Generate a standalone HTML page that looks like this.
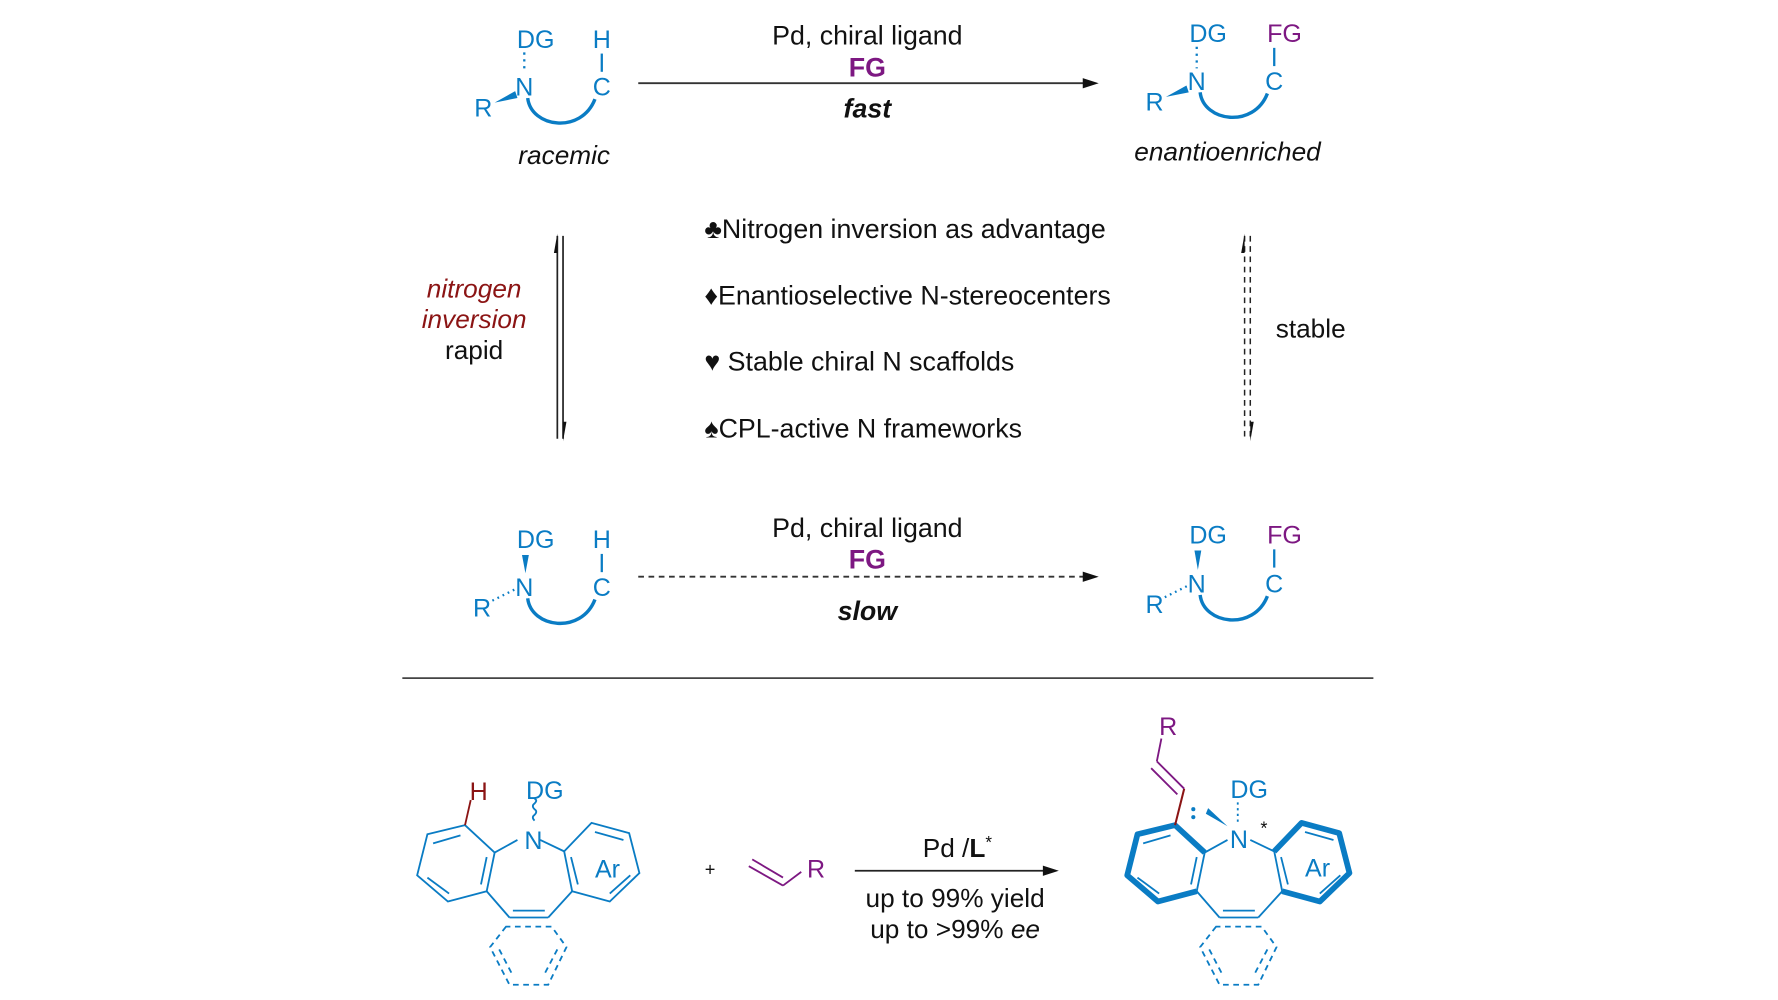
<!DOCTYPE html>
<html><head><meta charset="utf-8"><style>
html,body{margin:0;padding:0;background:#fff;}
svg{display:block}
text{font-family:"Liberation Sans",Arial,sans-serif;}
.b{fill:#0a7cc4}.p{fill:#7d1882}.r{fill:#8b1414}.k{fill:#111}
</style></head><body>
<svg width="1778" height="1000" viewBox="0 0 1560 877.4" xmlns="http://www.w3.org/2000/svg">

<!-- TOP LEFT molecule -->
<g font-size="22" text-anchor="middle">
 <text x="470" y="42" class="b">DG</text>
 <text x="528" y="42" class="b">H</text>
 <text x="460" y="84" class="b">N</text>
 <text x="528" y="84" class="b">C</text>
 <text x="424" y="102" class="b">R</text>
</g>
<line x1="460" y1="46" x2="460" y2="64" stroke="#0a7cc4" stroke-width="2" stroke-dasharray="2,4"/>
<line x1="528" y1="47" x2="528" y2="63" stroke="#0a7cc4" stroke-width="2"/>
<polygon points="434,90 452,80 454,86" fill="#0a7cc4"/>
<path d="M463,86 C466,112 510,118 522,87" fill="none" stroke="#0a7cc4" stroke-width="3"/>
<text x="495" y="144" font-size="23" font-style="italic" text-anchor="middle" class="k">racemic</text>

<!-- top arrow -->
<line x1="560" y1="73" x2="955" y2="73" stroke="#333" stroke-width="1.6"/>
<polygon points="964,73 950,68.5 950,77.5" fill="#111"/>
<text x="761" y="39" font-size="23.5" text-anchor="middle" class="k">Pd, chiral ligand</text>
<text x="761" y="67" font-size="23.5" font-weight="bold" text-anchor="middle" class="p">FG</text>
<text x="761" y="103" font-size="23.5" font-weight="bold" font-style="italic" text-anchor="middle" class="k">fast</text>

<!-- TOP RIGHT molecule -->
<g font-size="22" text-anchor="middle">
 <text x="1060" y="37" class="b">DG</text>
 <text x="1127" y="37" class="p">FG</text>
 <text x="1050" y="79" class="b">N</text>
 <text x="1118" y="79" class="b">C</text>
 <text x="1013" y="97" class="b">R</text>
</g>
<line x1="1050" y1="41" x2="1050" y2="60" stroke="#0a7cc4" stroke-width="2" stroke-dasharray="2,4"/>
<line x1="1118" y1="42" x2="1118" y2="58" stroke="#0a7cc4" stroke-width="2"/>
<polygon points="1023,85 1041,75 1043,81" fill="#0a7cc4"/>
<path d="M1053,81 C1056,107 1100,113 1112,82" fill="none" stroke="#0a7cc4" stroke-width="3"/>
<text x="1077" y="141" font-size="23" font-style="italic" text-anchor="middle" class="k">enantioenriched</text>

<!-- left equilibrium arrows -->
<line x1="489" y1="207" x2="489" y2="385" stroke="#222" stroke-width="1.5"/>
<line x1="494" y1="207" x2="494" y2="385" stroke="#222" stroke-width="1.5"/>
<polygon points="489,205 486,222 489,222" fill="#111"/>
<polygon points="494,387 497,370 494,370" fill="#111"/>
<text x="416" y="261" font-size="23" font-style="italic" text-anchor="middle" class="r">nitrogen</text>
<text x="416" y="288" font-size="23" font-style="italic" text-anchor="middle" class="r">inversion</text>
<text x="416" y="315" font-size="23" text-anchor="middle" class="k">rapid</text>

<!-- bullets -->
<g font-size="23.5" class="k">
 <text x="618" y="209">♣Nitrogen inversion as advantage</text>
 <text x="618" y="267">♦Enantioselective N-stereocenters</text>
 <text x="618" y="325">♥ Stable chiral N scaffolds</text>
 <text x="618" y="384">♠CPL-active N frameworks</text>
</g>

<!-- right dashed arrows -->
<line x1="1092" y1="207" x2="1092" y2="385" stroke="#222" stroke-width="1.3" stroke-dasharray="5,4"/>
<line x1="1097" y1="207" x2="1097" y2="385" stroke="#222" stroke-width="1.3" stroke-dasharray="5,4"/>
<polygon points="1092,205 1089,222 1092,222" fill="#111"/>
<polygon points="1097,387 1100,370 1097,370" fill="#111"/>
<text x="1150" y="296" font-size="23" text-anchor="middle" class="k">stable</text>

<!-- BOTTOM ROW left -->
<g font-size="22" text-anchor="middle">
 <text x="470" y="481" class="b">DG</text>
 <text x="528" y="481" class="b">H</text>
 <text x="460" y="523" class="b">N</text>
 <text x="528" y="523" class="b">C</text>
 <text x="423" y="541" class="b">R</text>
</g>
<polygon points="458,487 464,487 461,503" fill="#0a7cc4"/>
<line x1="528" y1="486" x2="528" y2="502" stroke="#0a7cc4" stroke-width="2"/>
<line x1="432" y1="527" x2="452" y2="517" stroke="#0a7cc4" stroke-width="2" stroke-dasharray="1.5,3.5"/>
<path d="M463,525 C466,551 510,557 522,526" fill="none" stroke="#0a7cc4" stroke-width="3"/>

<line x1="560" y1="506" x2="955" y2="506" stroke="#333" stroke-width="1.6" stroke-dasharray="5,4"/>
<polygon points="964,506 950,501.5 950,510.5" fill="#111"/>
<text x="761" y="471" font-size="23.5" text-anchor="middle" class="k">Pd, chiral ligand</text>
<text x="761" y="499" font-size="23.5" font-weight="bold" text-anchor="middle" class="p">FG</text>
<text x="761" y="544" font-size="23.5" font-weight="bold" font-style="italic" text-anchor="middle" class="k">slow</text>

<g font-size="22" text-anchor="middle">
 <text x="1060" y="477" class="b">DG</text>
 <text x="1127" y="477" class="p">FG</text>
 <text x="1050" y="520" class="b">N</text>
 <text x="1118" y="520" class="b">C</text>
 <text x="1013" y="538" class="b">R</text>
</g>
<polygon points="1048,483 1054,483 1051,500" fill="#0a7cc4"/>
<line x1="1118" y1="482" x2="1118" y2="498" stroke="#0a7cc4" stroke-width="2"/>
<line x1="1022" y1="524" x2="1042" y2="514" stroke="#0a7cc4" stroke-width="2" stroke-dasharray="1.5,3.5"/>
<path d="M1053,522 C1056,548 1100,554 1112,523" fill="none" stroke="#0a7cc4" stroke-width="3"/>

<!-- separator -->
<line x1="353" y1="595" x2="1205" y2="595" stroke="#444" stroke-width="1.6"/>

<!-- BOTTOM reactant -->
<g transform="translate(-623,0)" fill="none" stroke="#0a7cc4" stroke-width="1.6">
 <polygon points="1031,724 998,732 989,768 1016,791 1050,782 1057,748"/>
 <polygon points="1118,747 1142,722 1175,731 1184,766 1158,791 1125,782"/>
 <line x1="1003" y1="740" x2="1027" y2="733"/>
 <line x1="998" y1="770" x2="1017" y2="784"/>
 <line x1="1050" y1="752" x2="1045" y2="776"/>
 <line x1="1124" y1="752" x2="1130" y2="776"/>
 <line x1="1145" y1="730" x2="1170" y2="737"/>
 <line x1="1176" y1="768" x2="1158" y2="784"/>
 <line x1="1050" y1="782" x2="1070" y2="805"/>
 <line x1="1125" y1="782" x2="1104" y2="805"/>
 <line x1="1070" y1="805" x2="1104" y2="805"/>
 <line x1="1073" y1="799" x2="1101" y2="799"/>
 <line x1="1057" y1="748" x2="1077" y2="737"/>
 <line x1="1118" y1="747" x2="1097" y2="737"/>
 <g stroke-dasharray="5,4">
  <polygon points="1067,813 1053,831 1070,864 1104,864 1120,831 1107,813"/>
  <line x1="1061" y1="833" x2="1073" y2="856"/>
  <line x1="1112" y1="833" x2="1100" y2="856"/>
 </g>
 <path d="M1092,720 q-3,-3 0,-5 q3,-3 0,-5 q-3,-3 0,-5 q3,-3 0,-4"/>
</g>
<line x1="408" y1="724" x2="413" y2="702" stroke="#8b1414" stroke-width="1.6"/>
<text x="420" y="702" font-size="22" text-anchor="middle" class="r">H</text>
<text x="478" y="701" font-size="22" text-anchor="middle" class="b">DG</text>
<text x="468" y="745" font-size="22" text-anchor="middle" class="b">N</text>
<text x="533" y="770" font-size="22" text-anchor="middle" class="b">Ar</text>

<!-- plus and alkene -->
<text x="623" y="768" font-size="16" text-anchor="middle" class="k">+</text>
<g stroke="#7d1882" stroke-width="1.6" fill="none">
 <line x1="657" y1="760" x2="687" y2="777"/>
 <line x1="660" y1="754" x2="687" y2="770"/>
 <line x1="687" y1="777" x2="703" y2="765"/>
</g>
<text x="716" y="770" font-size="22" text-anchor="middle" class="p">R</text>

<!-- bottom arrow -->
<line x1="750" y1="764" x2="920" y2="764" stroke="#222" stroke-width="1.6"/>
<polygon points="929,764 915,759.5 915,768.5" fill="#111"/>
<text x="840" y="752" font-size="23" text-anchor="middle" class="k">Pd /<tspan font-weight="bold">L</tspan><tspan font-size="15" dy="-8">*</tspan></text>
<text x="838" y="796" font-size="23" text-anchor="middle" class="k">up to 99% yield</text>
<text x="838" y="823" font-size="23" text-anchor="middle" class="k">up to &gt;99% <tspan font-style="italic">ee</tspan></text>

<!-- BOTTOM product -->
<g fill="none" stroke="#0a7cc4">
 <polyline points="1050,782 1016,791 989,768 998,732 1031,724 1057,748" stroke-width="5" stroke-linejoin="round"/>
 <line x1="1057" y1="748" x2="1050" y2="782" stroke-width="1.6"/>
 <polyline points="1118,747 1142,722 1175,731 1184,766 1158,791 1125,782" stroke-width="5" stroke-linejoin="round"/>
 <line x1="1125" y1="782" x2="1118" y2="747" stroke-width="1.6"/>
 <g stroke-width="1.6">
 <line x1="1003" y1="740" x2="1027" y2="733"/>
 <line x1="998" y1="770" x2="1017" y2="784"/>
 <line x1="1050" y1="752" x2="1045" y2="776"/>
 <line x1="1124" y1="752" x2="1130" y2="776"/>
 <line x1="1145" y1="730" x2="1170" y2="737"/>
 <line x1="1176" y1="768" x2="1158" y2="784"/>
 <line x1="1050" y1="782" x2="1070" y2="805"/>
 <line x1="1125" y1="782" x2="1104" y2="805"/>
 <line x1="1070" y1="805" x2="1104" y2="805"/>
 <line x1="1073" y1="799" x2="1101" y2="799"/>
 <line x1="1057" y1="748" x2="1077" y2="737"/>
 <line x1="1118" y1="747" x2="1097" y2="737"/>
 <g stroke-dasharray="5,4">
  <polygon points="1067,813 1053,831 1070,864 1104,864 1120,831 1107,813"/>
  <line x1="1061" y1="833" x2="1073" y2="856"/>
  <line x1="1112" y1="833" x2="1100" y2="856"/>
 </g>
 <line x1="1086" y1="704" x2="1086" y2="722" stroke-dasharray="2,3"/>
 </g>
</g>
<line x1="1031" y1="724" x2="1039" y2="692" stroke="#8b1414" stroke-width="1.8"/>
<g stroke="#7d1882" stroke-width="1.6">
 <line x1="1039" y1="692" x2="1015" y2="668"/>
 <line x1="1033" y1="697" x2="1010" y2="674"/>
 <line x1="1015" y1="668" x2="1019" y2="648"/>
</g>
<text x="1025" y="645" font-size="22" text-anchor="middle" class="p">R</text>
<text x="1096" y="700" font-size="22" text-anchor="middle" class="b">DG</text>
<text x="1087" y="744" font-size="22" text-anchor="middle" class="b">N</text>
<text x="1109" y="732" font-size="16" text-anchor="middle" class="k">*</text>
<text x="1156" y="769" font-size="22" text-anchor="middle" class="b">Ar</text>
<circle cx="1047" cy="710" r="1.8" fill="#0a7cc4"/>
<circle cx="1047" cy="717" r="1.8" fill="#0a7cc4"/>
<polygon points="1058,714 1060,709 1077,725" fill="#0a7cc4"/>
</svg>
</body></html>
